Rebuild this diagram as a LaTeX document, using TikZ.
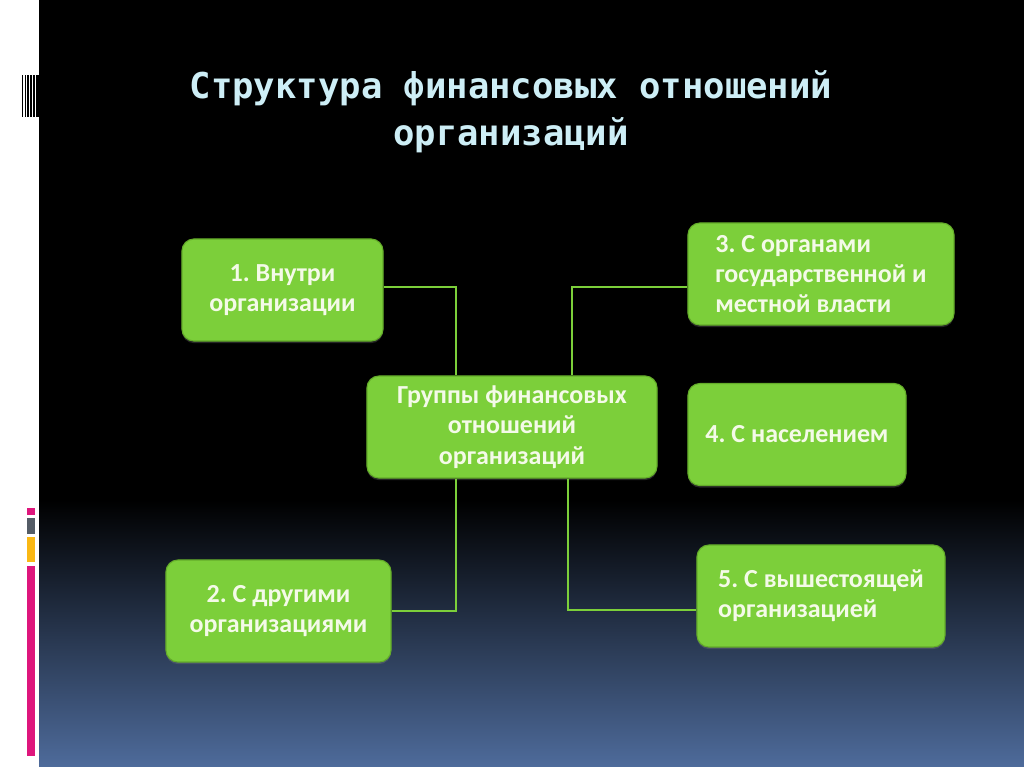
\documentclass[tikz,border=0pt]{standalone}
\usepackage{fontspec}
\setmainfont{Carlito}
\newfontfamily\titlefont{DejaVu Sans Mono}
\usetikzlibrary{positioning, calc, shadows}
\definecolor{BoxGreen}{RGB}{124, 207, 58}
\definecolor{BoxEdge}{RGB}{100, 172, 42}
\definecolor{TitleCyan}{RGB}{205, 238, 246}
\definecolor{BoxText}{RGB}{244, 250, 232}
\definecolor{DeepBlue}{RGB}{78, 107, 155}
\definecolor{Magenta}{RGB}{222, 22, 124}
\definecolor{SlateGray}{RGB}{84, 92, 102}
\definecolor{Amber}{RGB}{250, 184, 20}
\frenchspacing

\tikzset{
  groupbox/.style={fill=BoxGreen, draw=BoxEdge, line width=0.8pt, rounded corners=8.5pt,
    minimum height=2.55cm, inner sep=2pt, text=BoxText, align=center,
    font=\fontsize{18.5}{21.5}\selectfont\bfseries,
    drop shadow={shadow xshift=0pt, shadow yshift=-1.5pt, opacity=0.3}},
  link/.style={draw=BoxGreen, line width=0.8pt},
}

\begin{document}
\begin{tikzpicture}[x=0.025cm, y=-0.025cm]
        % Slide background with white margin strip
        \fill[white] (0,0) rectangle (1024,767);
        \fill[black] (39,0) rectangle (1024,767);
        \shade[top color=black, bottom color=DeepBlue] (39,500) rectangle (1024,767);

        % Barcode marks on the margin
        \foreach \xa/\xb in {22/23.2, 24.8/26, 27.4/29, 30/32.4, 33.4/35.4, 36.4/38.6}
            \fill[black] (\xa,75) rectangle (\xb,117);

        % Coloured markers on the margin
        \fill[Magenta] (27,508) rectangle (35,515);
        \fill[SlateGray] (27,518) rectangle (35,534);
        \fill[Amber] (27,537) rectangle (35,562);
        \fill[Magenta] (27,566) rectangle (35,756);

        % Title
        \node[font=\titlefont\fontsize{25.3}{33.4}\selectfont\bfseries, text=TitleCyan, align=center] (title) at (511,112)
            {Структура финансовых отношений\\организаций};

        % Boxes
        \node[groupbox, minimum width=7.25cm] (hub) at (512,427) {Группы финансовых\\отношений\\организаций};
        \node[groupbox, minimum width=5.025cm] (inner) at (282.5,290) {1. Внутри\\организации};
        \node[groupbox, minimum width=5.625cm] (peers) at (278.5,611) {2. С другими\\организациями};
        \node[groupbox, minimum width=6.65cm, align=left] (state) at (821,274) {3. С органами\\государственной и\\местной власти};
        \node[groupbox, minimum width=5.45cm] (people) at (797,434.5) {4. С населением};
        \node[groupbox, minimum width=6.2cm, align=left] (parent) at (821,596) {5. С вышестоящей\\организацией};

        % Connectors
        \draw[link] ([yshift=0.075cm]inner.east) -| ([xshift=-1.4cm]hub.north);
        \draw[link] ([xshift=1.5cm]hub.north) |- ([yshift=-0.325cm]state.west);
        \draw[link] ([xshift=-1.4cm]hub.south) |- (peers.east);
        \draw[link] ([xshift=1.4cm]hub.south) |- ([yshift=-0.35cm]parent.west);
    \end{tikzpicture}
\end{document}
